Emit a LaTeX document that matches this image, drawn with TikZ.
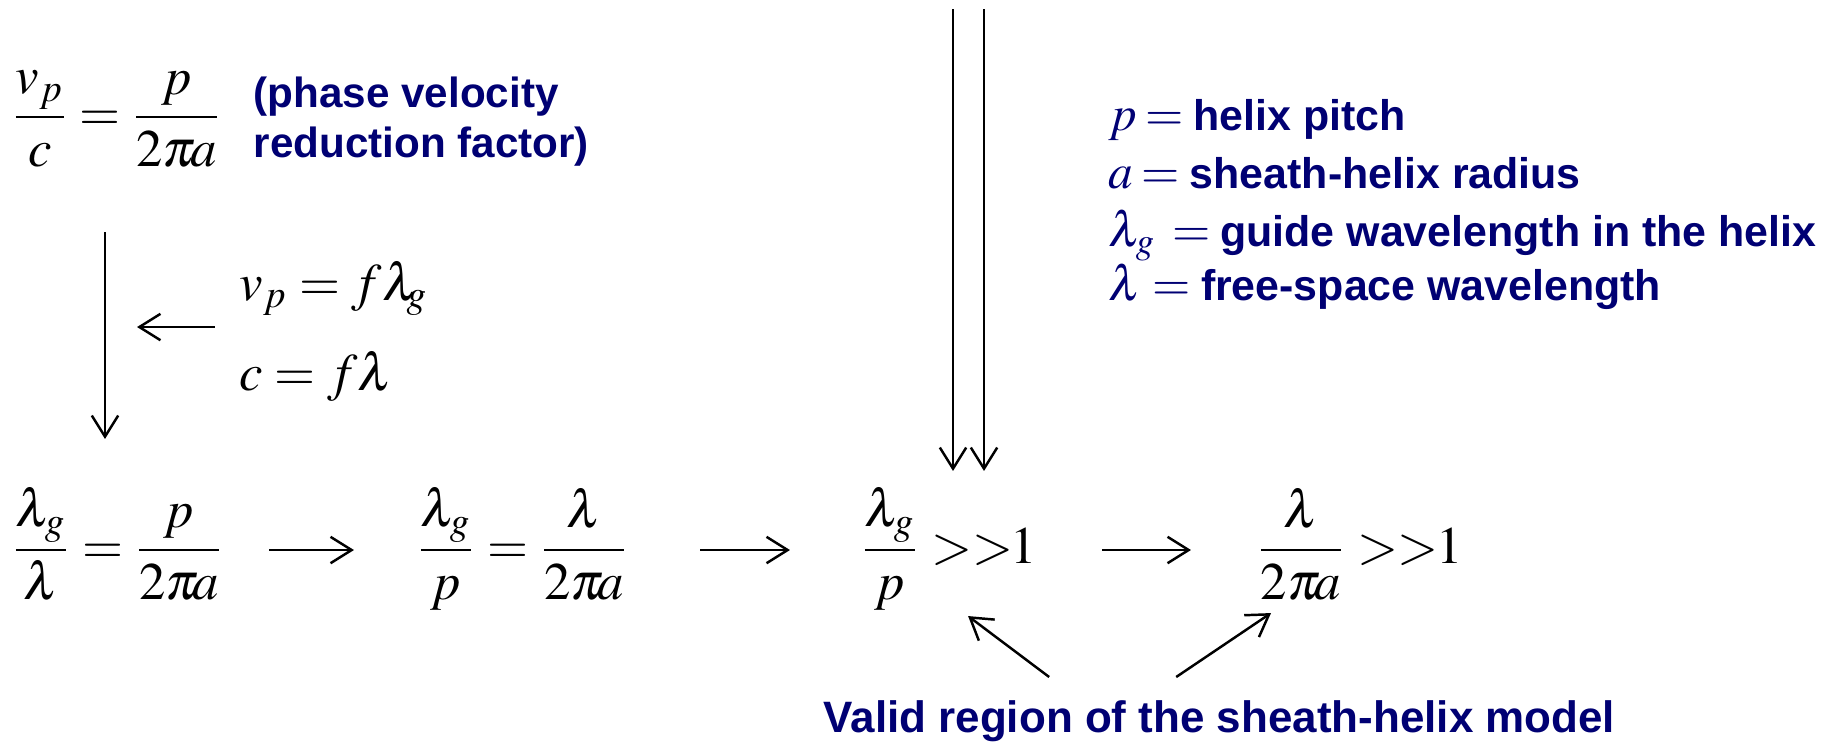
\documentclass[tikz,border=0pt]{standalone}
\usepackage{amsmath}
\usepackage{mathptmx}
\usepackage{fontspec}
\newfontfamily\arialfont{Liberation Sans}
\usetikzlibrary{arrows.meta}
\definecolor{navy}{RGB}{0,0,115}
\newcommand\defmath[2]{{\fontsize{14}{14}\selectfont$#1\mkern#2mu{=}$}\hspace{0.1cm}}
\newcommand\twopia{2\pi\mkern-2mu a}
\newcommand\eqm[1]{$\thickmuskip=4mu\relax\displaystyle #1$}

\begin{document}
\begin{tikzpicture}[x=0.01cm, y=-0.01cm,
  eq/.style={inner sep=0pt, font=\fontsize{15}{18}\selectfont},
  note/.style={inner sep=0pt, text=navy, font=\arialfont\bfseries\fontsize{12.5}{14}\selectfont},
  legend/.style={note, font=\arialfont\bfseries\fontsize{12.2}{14}\selectfont, anchor=base west},
  arr/.style={-{Straight Barb[length=6pt,width=7.5pt]}, line width=0.7pt}]
  \useasboundingbox (0,0) rectangle (1822,747);
  % Reduction factor and its note.
  \node[eq, anchor=base west] (phase) at (11,130) {\eqm{\frac{v_p}{c}=\frac{p}{\twopia}}};
  \node[note, font=\arialfont\bfseries\fontsize{12}{14.2}\selectfont, anchor=north west, align=left] (phasenote) at (253,76) {(phase velocity\\reduction factor)};
  % Relations used in the substitution.
  \node[eq, anchor=base west] (relvel) at (239,300) {$v_p=f\lambda_{\mkern-2mu g}$};
  \node[eq, anchor=base west] (relfreq) at (239,390) {$c=f\lambda$};
  % Chain of results.
  \node[eq, anchor=base west] (ratio) at (11,563) {\eqm{\frac{\lambda_g}{\lambda}=\frac{p}{\twopia}}};
  \node[eq, anchor=base west] (swap) at (416,563) {\eqm{\frac{\lambda_g}{p}=\frac{\lambda}{\twopia}}};
  \node[eq, anchor=base west] (condA) at (860,563) {\eqm{\frac{\lambda_g}{p}>>\mkern-5mu 1}};
  \node[eq, anchor=base west] (condB) at (1256,563) {\eqm{\frac{\lambda}{\twopia}>>\mkern-5mu 1}};
  % Symbol legend.
  \node[legend] (defp) at (1108,130) {\defmath{p}{3}helix pitch};
  \node[legend] (defa) at (1108,188) {\defmath{a}{3}sheath-helix radius};
  \node[legend] (defg) at (1108,246) {\defmath{\lambda_g}{6}guide wavelength in the helix};
  \node[legend] (defl) at (1108,300) {\defmath{\lambda}{4}free-space wavelength};
  \node[note, anchor=base west] (valid) at (823,732) {Valid region of the sheath-helix model};
  % Arrows.
  \coordinate (dtop) at (105,232);
  \draw[arr, shorten >=1.24cm] (dtop) -- (dtop |- ratio.base);
  \draw[arr, shorten <=0.24cm, shorten >=0.32cm] ([yshift=-0.27cm]relvel.base west) -- ([yshift=-0.27cm]dtop |- relvel.base);
  \draw[arr, shorten <=0.45cm, shorten >=0.62cm] ([yshift=0.13cm]ratio.base east) -- ([yshift=0.13cm]swap.base west);
  \draw[arr, shorten <=0.71cm, shorten >=0.70cm] ([yshift=0.13cm]swap.base east) -- ([yshift=0.13cm]condA.base west);
  \draw[arr, shorten <=0.65cm, shorten >=0.65cm] ([yshift=0.13cm]condA.base east) -- ([yshift=0.13cm]condB.base west);
  \coordinate (feedL) at (953,9);
  \coordinate (feedR) at (984,9);
  \draw[arr, shorten >=0.92cm] (feedL) -- (feedL |- condA.base);
  \draw[arr, shorten >=0.92cm] (feedR) -- (feedR |- condA.base);
  \draw[arr] ([xshift=2.26cm,yshift=0.55cm]valid.base west) -- ([xshift=1.08cm,yshift=-0.53cm]condA.base west);
  \draw[arr] ([xshift=3.53cm,yshift=0.55cm]valid.base west) -- ([xshift=0.15cm,yshift=-0.50cm]condB.base west);
\end{tikzpicture}
\end{document}
